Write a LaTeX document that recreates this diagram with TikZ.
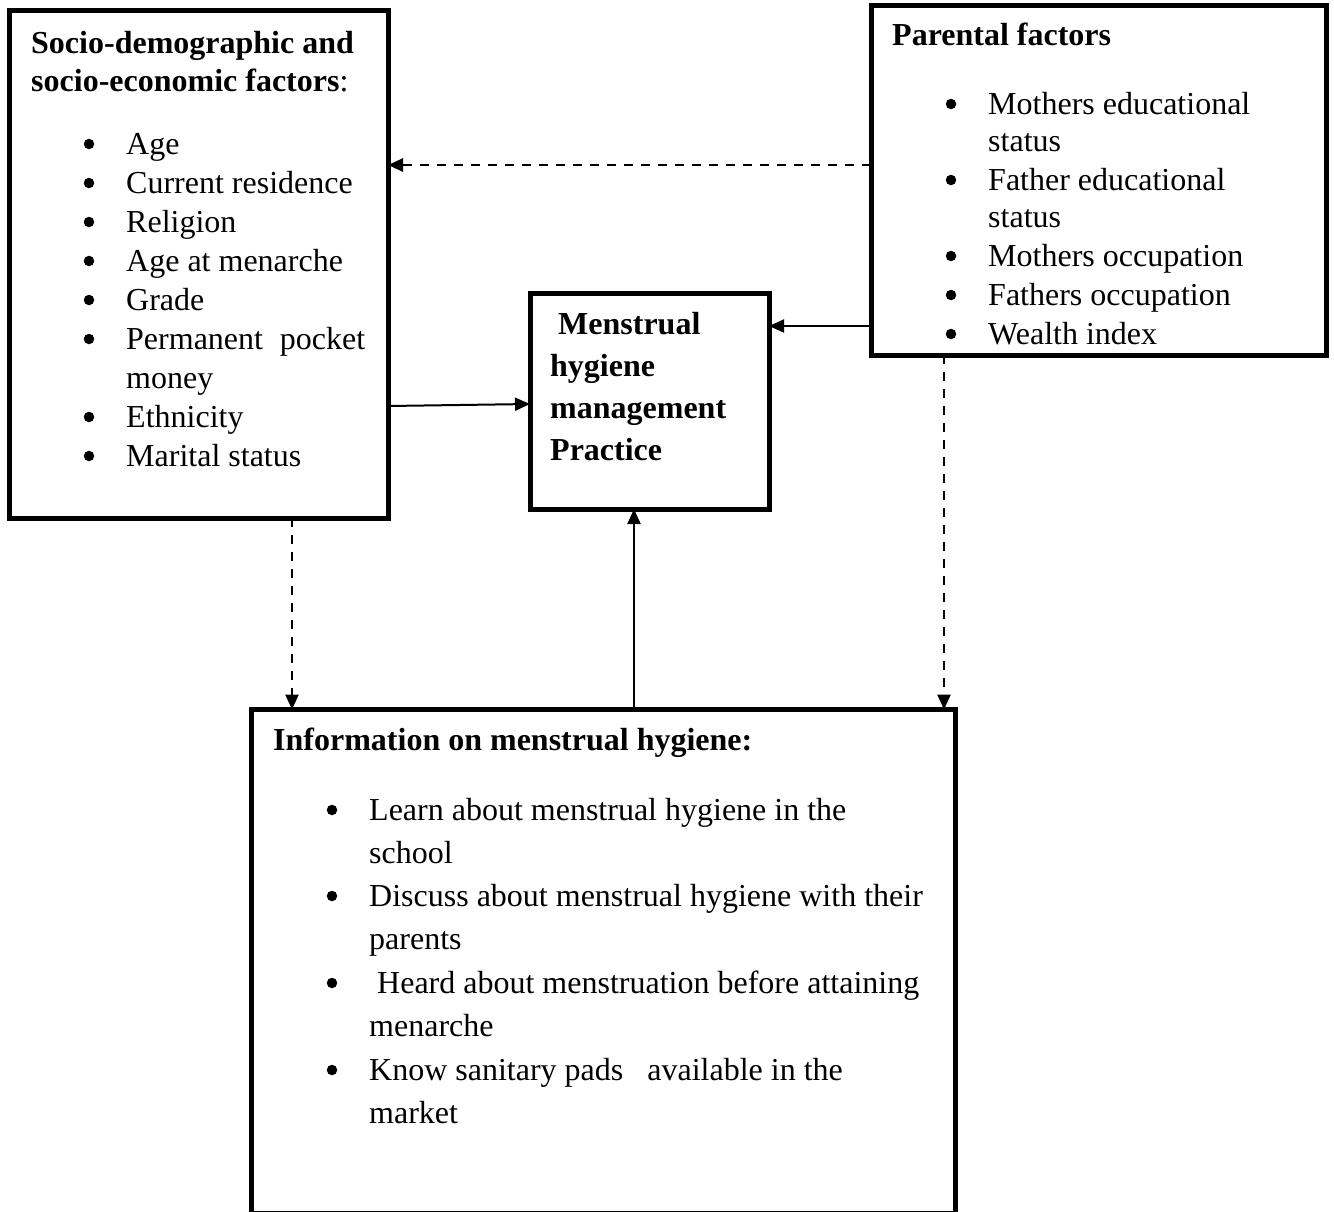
\documentclass[tikz,border=0pt]{standalone}
\usepackage{fontspec}
\setmainfont{Liberation Serif}
\usetikzlibrary{arrows.meta}
\tikzset{
  box/.style={draw, line width=5pt, inner sep=0pt, outer sep=0pt, anchor=north west, fill=none},
  txt/.style={anchor=base west, inner sep=0pt, font=\fontsize{32}{39}\selectfont},
  btxt/.style={txt, font=\fontsize{32}{39}\selectfont\bfseries},
  bul/.style={circle, fill=black, inner sep=0pt, minimum size=10.5pt},
  solidarrow/.style={line width=2pt, -{Triangle[length=15pt,width=13pt]}},
  dasharrow/.style={line width=2.6pt, dash pattern=on 9pt off 8pt, -{Triangle[length=15pt,width=13pt]}}
}
\newcommand\itm[4]{\node[bul] (#1b) at (#2-37,#3-10) {}; \node[txt] (#1) at (#2,#3) {#4};}
\begin{document}
\begin{tikzpicture}[x=1pt,y=-1pt]
\useasboundingbox (0,0) rectangle (1334,1211);
\clip (0,0) rectangle (1334,1211);
\fill[white] (0,0) rectangle (1334,1211);
% boxes
\node[box, minimum width=378.5pt, minimum height=507.5pt] (sd) at (9.5,10.5) {};
\node[box, minimum width=455pt, minimum height=350pt] (pf) at (871,5) {};
\node[box, minimum width=239pt, minimum height=216pt] (mh) at (530,293) {};
\node[box, minimum width=704pt, minimum height=504pt] (info) at (251,709.5) {};
% left box text
\node[btxt] (sdh1) at (31,53) {Socio-demographic and};
\node[txt] (sdh2) at (31,91) {\textbf{socio-economic factors}:};
\itm{s1}{126}{154}{Age}
\itm{s2}{126}{193}{Current residence}
\itm{s3}{126}{232}{Religion}
\itm{s4}{126}{271}{Age at menarche}
\itm{s5}{126}{310}{Grade}
\itm{s6}{126}{349}{\makebox[239pt][s]{Permanent pocket}}
\node[txt] (s6b2) at (126,388) {money};
\itm{s7}{126}{427}{Ethnicity}
\itm{s8}{126}{466}{Marital status}
% right box text
\node[btxt] (pfh) at (892,45) {Parental factors};
\itm{p1}{988}{114}{Mothers educational}
\node[txt] (p1b2) at (988,151) {status};
\itm{p2}{988}{190}{Father educational}
\node[txt] (p2b2) at (988,227) {status};
\itm{p3}{988}{266}{Mothers occupation}
\itm{p4}{988}{305}{Fathers occupation}
\itm{p5}{988}{344}{Wealth index}
% middle box text
\node[btxt] (m1) at (558,334) {Menstrual};
\node[btxt] (m2) at (550,376) {hygiene};
\node[btxt] (m3) at (550,418) {management};
\node[btxt] (m4) at (550,460) {Practice};
% bottom box text
\node[btxt] (ih) at (273,750) {Information on menstrual hygiene:};
\itm{i1}{369}{820}{Learn about menstrual hygiene in the}
\node[txt] (i1b2) at (369,863) {school};
\itm{i2}{369}{906}{Discuss about menstrual hygiene with their}
\node[txt] (i2b2) at (369,949) {parents};
\itm{i3}{369}{993}{\ Heard about menstruation before attaining}
\node[txt] (i3b2) at (369,1036) {menarche};
\itm{i4}{369}{1080}{Know sanitary pads\ \ \ available in the}
\node[txt] (i4b2) at (369,1123) {market};
% connectors
\draw[dasharrow] (pf.west |- 0,165) -- (sd.east |- 0,165);
\draw[solidarrow] (sd.east |- 0,406) -- (mh.west |- 0,404);
\draw[solidarrow] (pf.west |- 0,326) -- (mh.east |- 0,326);
\draw[solidarrow] (info.north -| 634,0) -- (mh.south -| 634,0);
\draw[dasharrow] (sd.south -| 292,0) -- (info.north -| 292,0);
\draw[dasharrow] (pf.south -| 944,0) -- (info.north -| 944,0);
\end{tikzpicture}
\end{document}
